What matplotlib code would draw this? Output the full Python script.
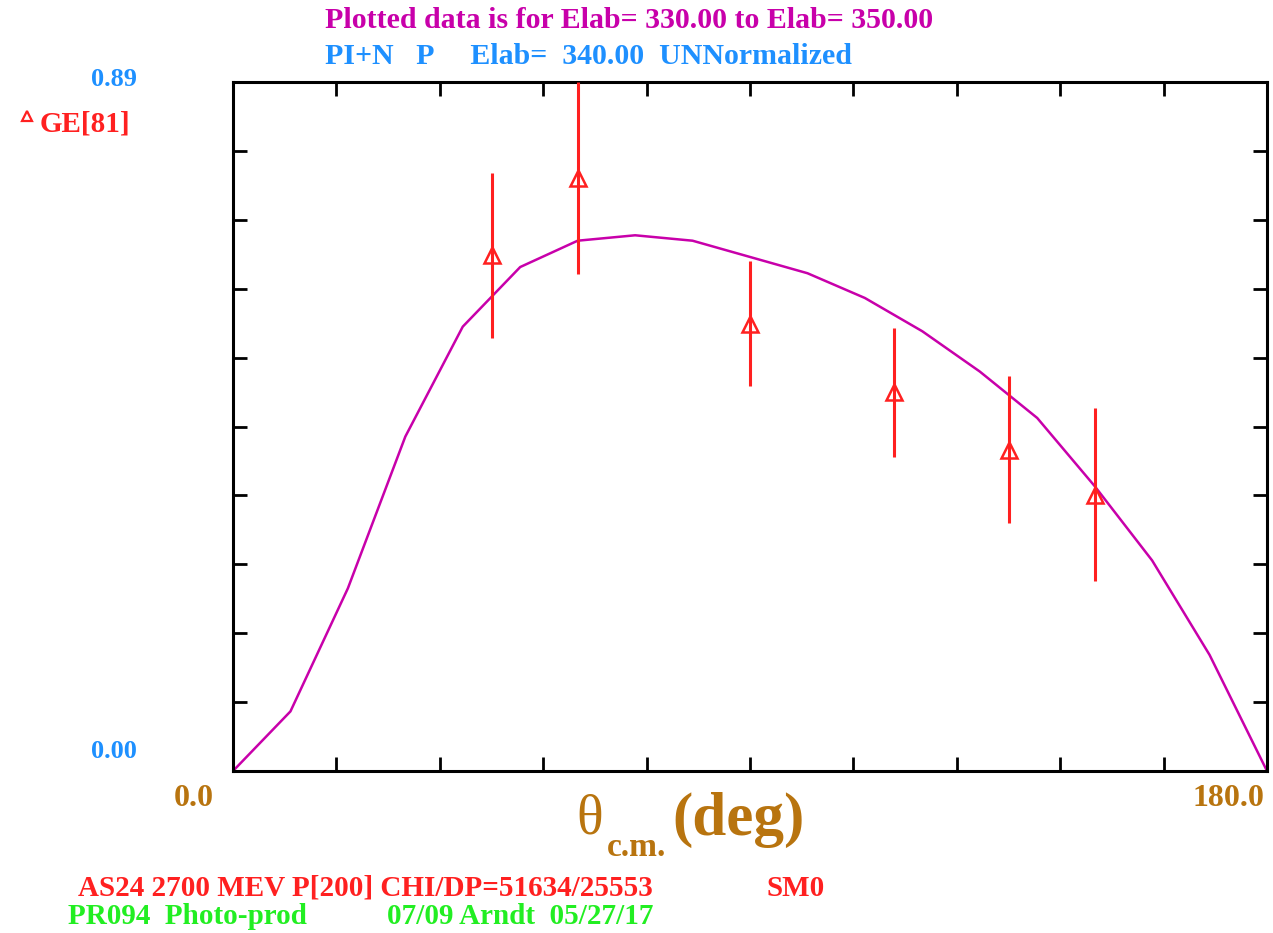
import matplotlib.pyplot as plt
from matplotlib.lines import Line2D

# figure is 1273x933 px at dpi 100
W, H = 1273, 933

# model curve (SM0 solution), theta in degrees
curve_theta = [0, 10, 20, 30, 40, 50, 60, 70, 80, 90, 100, 110, 120, 130, 140, 150, 160, 170, 180]
curve_val = [0.0, 0.077, 0.236, 0.432, 0.574, 0.651, 0.685, 0.692, 0.685, 0.664,
             0.643, 0.611, 0.568, 0.516, 0.456, 0.368, 0.272, 0.150, 0.0]

# GE[81] data points
data_theta = [45, 60, 90, 115, 135, 150]
data_val = [0.666, 0.766, 0.578, 0.489, 0.415, 0.357]
data_err = [0.107, 0.124, 0.081, 0.083, 0.095, 0.112]

x_ticks = [0, 18, 36, 54, 72, 90, 108, 126, 144, 162, 180]
y_ticks = [0.089 * i for i in range(11)]

MAGENTA = "#C800AA"
BLUE = "#1E90FF"
RED = "#FF2020"
BROWN = "#B8740F"
GREEN = "#22EE22"
FONT = "Liberation Serif"


def px(x, y):
    """pixel position -> figure fraction"""
    return x / W, 1 - y / H


fig = plt.figure(figsize=(W / 100, H / 100), dpi=100)
ax = fig.add_axes([233 / W, 1 - 771 / H, (1267 - 233) / W, (771 - 82) / H])

ax.plot(curve_theta, curve_val, color=MAGENTA, lw=1.8, zorder=2)
ax.errorbar(data_theta, data_val, yerr=data_err, fmt="^", color=RED, ms=11,
            mfc="none", mew=1.8, elinewidth=2.2, capsize=0, zorder=3)

ax.set_xlim(0, 180)
ax.set_ylim(0, 0.89)
ax.set_xticks(x_ticks)
ax.set_yticks(y_ticks)
ax.tick_params(direction="in", length=10, width=2, top=True, right=True,
               labelbottom=False, labelleft=False)
for s in ax.spines.values():
    s.set_linewidth(2.2)

# header
fig.text(*px(325, 21), "Plotted data is for Elab= 330.00 to Elab= 350.00", color=MAGENTA,
         fontsize=21.5, fontweight="bold", family=FONT, va="center", ha="left")
fig.text(*px(325, 57), "PI+N   P     Elab=  340.00  UNNormalized", color=BLUE,
         fontsize=21.5, fontweight="bold", family=FONT, va="center", ha="left")

# y axis end labels
fig.text(*px(137, 80), "0.89", color=BLUE, fontsize=19, fontweight="bold", family=FONT,
         va="center", ha="right")
fig.text(*px(137, 752), "0.00", color=BLUE, fontsize=19, fontweight="bold", family=FONT,
         va="center", ha="right")

# legend
fig.add_artist(Line2D([27 / W], [1 - 116 / H], marker="^", ms=7, mfc="none", mec=RED,
                      mew=1.6, transform=fig.transFigure))
fig.text(*px(40, 124), "GE[81]", color=RED, fontsize=21, fontweight="bold", family=FONT,
         va="center", ha="left")

# x axis end labels and title
fig.text(*px(194, 798), "0.0", color=BROWN, fontsize=23, fontweight="bold", family=FONT,
         va="center", ha="center")
fig.text(*px(1228, 798), "180.0", color=BROWN, fontsize=23, fontweight="bold", family=FONT,
         va="center", ha="center")
fig.text(*px(590, 820), "θ", color=BROWN, fontsize=40, family=FONT, va="center", ha="center")
fig.text(*px(607, 847), "c.m.", color=BROWN, fontsize=24, fontweight="bold", family=FONT,
         va="center", ha="left")
fig.text(*px(672, 820), "(deg)", color=BROWN, fontsize=44, fontweight="bold", family=FONT,
         va="center", ha="left")

# footer
fig.text(*px(78, 888), "AS24 2700 MEV P[200] CHI/DP=51634/25553", color=RED, fontsize=21,
         fontweight="bold", family=FONT, va="center", ha="left")
fig.text(*px(767, 888), "SM0", color=RED, fontsize=21, fontweight="bold", family=FONT,
         va="center", ha="left")
fig.text(*px(68, 916), "PR094  Photo-prod", color=GREEN,
         fontsize=21, fontweight="bold", family=FONT, va="center", ha="left")
fig.text(*px(387, 916), "07/09 Arndt  05/27/17", color=GREEN,
         fontsize=21, fontweight="bold", family=FONT, va="center", ha="left")

fig.savefig("out.png", dpi=100)
